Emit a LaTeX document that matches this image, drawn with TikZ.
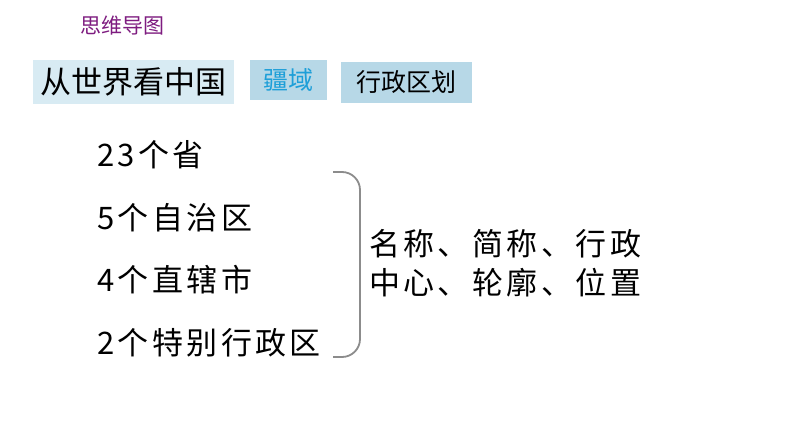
\documentclass[tikz,border=0pt]{standalone}
\usepackage{fontspec}
\setmainfont{Noto Sans CJK SC}
\newfontfamily\spaced[LetterSpace=11]{Noto Sans CJK SC}
\definecolor{titlepurple}{HTML}{7E1C80}
\definecolor{boxlight}{HTML}{D8EBF3}
\definecolor{boxmid}{HTML}{B7D8E7}
\definecolor{cyantext}{HTML}{1E9FD8}
\definecolor{brgray}{HTML}{8C8C8C}
\begin{document}
\begin{tikzpicture}[x=1pt,y=-1pt,
  tabbox/.style={inner sep=0pt, align=center},
  listitem/.style={anchor=west, inner sep=0pt, font=\spaced\fontsize{31}{31}\selectfont},
]
\useasboundingbox (0,0) rectangle (794,447);
\fill[white] (0,0) rectangle (794,447);
\node[inner sep=0pt, text=titlepurple, font=\fontsize{21}{21}\selectfont] (title) at (122,26) {思维导图};
\node[tabbox, fill=boxlight, minimum width=201pt, minimum height=44pt, font=\fontsize{31}{31}\selectfont] (b1) at (133.5,82) {从世界看中国};
\node[tabbox, fill=boxmid, minimum width=77pt, minimum height=40pt, text=cyantext, font=\fontsize{25}{25}\selectfont] (b2) at (288.5,80) {疆域};
\node[tabbox, fill=boxmid, minimum width=131pt, minimum height=41pt, font=\fontsize{25}{25}\selectfont] (b3) at (406.5,82.5) {行政区划};
\node[listitem] (l1) at (97,155) {23个省};
\node[listitem] (l2) at (97,218) {5个自治区};
\node[listitem] (l3) at (97,280) {4个直辖市};
\node[listitem] (l4) at (97,343) {2个特别行政区};
\coordinate (bt) at (333,172);
\coordinate (bm) at (360,264);
\coordinate (bb) at (333,357);
\draw[brgray, line width=1.8pt, rounded corners=18pt] (bt) -| (bm) |- (bb);
\node[anchor=west, inner sep=0pt, align=left, font=\spaced\fontsize{31}{39}\selectfont] (desc) at (369,263) {名称、简称、行政\\中心、轮廓、位置};
\end{tikzpicture}
\end{document}
